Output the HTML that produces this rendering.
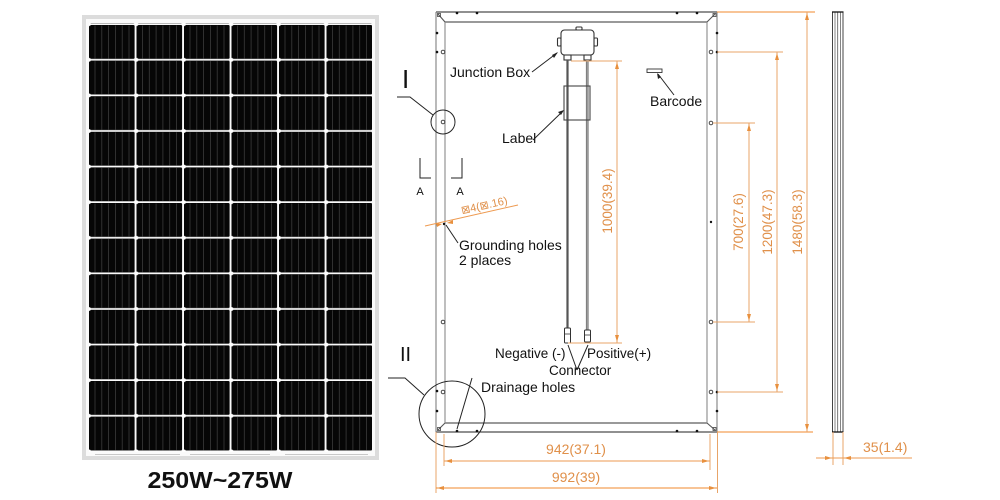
<!DOCTYPE html>
<html><head><meta charset="utf-8"><style>
html,body{margin:0;padding:0;background:#fff;}
svg{display:block;}
text{font-family:"Liberation Sans",Arial,sans-serif;}
</style></head><body>
<svg width="1000" height="500" viewBox="0 0 1000 500" xmlns="http://www.w3.org/2000/svg">
<defs>
<pattern id="cell" x="89" y="25" width="47.5" height="35.6" patternUnits="userSpaceOnUse">
<rect x="0" y="0" width="45.6" height="33.9" rx="1.2" fill="#060606"/>
<g stroke="#3a3a3a" stroke-width="0.8">
<line x1="6" y1="0.5" x2="6" y2="33.5"/><line x1="12.8" y1="0.5" x2="12.8" y2="33.5"/><line x1="19.6" y1="0.5" x2="19.6" y2="33.5"/><line x1="26.4" y1="0.5" x2="26.4" y2="33.5"/><line x1="33.2" y1="0.5" x2="33.2" y2="33.5"/><line x1="40" y1="0.5" x2="40" y2="33.5"/>
</g>
</pattern>
<pattern id="dots" x="112.8" y="42" width="47.5" height="35.6" patternUnits="userSpaceOnUse">
<circle cx="23.75" cy="17.8" r="1.8" fill="#fff"/>
</pattern>
<clipPath id="cc"><rect x="89" y="23" width="283" height="429"/></clipPath>
</defs>
<rect width="1000" height="500" fill="#fff"/>

<!-- Solar panel front -->
<rect x="82" y="15" width="297" height="445" fill="#dcdcdc"/>
<rect x="86" y="19" width="289" height="437" fill="#fafafa"/>
<rect x="89" y="23" width="283" height="429" fill="url(#cell)"/>
<g clip-path="url(#cc)"><rect x="89" y="23" width="283" height="429" fill="url(#dots)"/></g>
<g stroke="#c8c8c8" stroke-width="1"><line x1="95" y1="454.5" x2="180" y2="454.5"/><line x1="190" y1="454.5" x2="270" y2="454.5"/><line x1="285" y1="454.5" x2="368" y2="454.5"/></g>
<text x="220" y="488" font-size="23" font-weight="bold" text-anchor="middle" textLength="145" lengthAdjust="spacingAndGlyphs" fill="#111">250W~275W</text>

<!-- Back view frame -->
<g fill="none" stroke-width="1.1">
<line x1="436" y1="12" x2="717" y2="12" stroke="#222"/>
<line x1="436" y1="432" x2="717" y2="432" stroke="#222"/>
<line x1="436" y1="12" x2="436" y2="432" stroke="#808080"/>
<line x1="717" y1="12" x2="717" y2="432" stroke="#808080"/>
<line x1="445" y1="22" x2="707" y2="22" stroke="#333"/>
<line x1="445" y1="423" x2="707" y2="423" stroke="#333"/>
<line x1="445" y1="22" x2="445" y2="423" stroke="#8a8a8a"/>
<line x1="707" y1="22" x2="707" y2="423" stroke="#8a8a8a"/>
<line x1="438" y1="14" x2="445" y2="22" stroke="#555"/>
<line x1="715" y1="14" x2="707" y2="22" stroke="#555"/>
<line x1="438" y1="430" x2="445" y2="423" stroke="#555"/>
<line x1="715" y1="430" x2="707" y2="423" stroke="#555"/>
<rect x="437.5" y="13.5" width="3" height="3" stroke="#444" stroke-width="0.8"/>
<rect x="713" y="13.5" width="3" height="3" stroke="#444" stroke-width="0.8"/>
<rect x="437.5" y="427.5" width="3" height="3" stroke="#444" stroke-width="0.8"/>
<rect x="713" y="427.5" width="3" height="3" stroke="#444" stroke-width="0.8"/>
</g>
<g fill="#111">
<circle cx="457" cy="13" r="1.3"/><circle cx="477" cy="13" r="1.3"/><circle cx="677" cy="13" r="1.3"/><circle cx="697" cy="13" r="1.3"/>
<circle cx="457" cy="431" r="1.3"/><circle cx="477" cy="431" r="1.3"/><circle cx="677" cy="431" r="1.3"/><circle cx="697" cy="431" r="1.3"/>
<circle cx="437" cy="33" r="1.3"/><circle cx="437" cy="52" r="1.3"/><circle cx="437" cy="391" r="1.3"/><circle cx="437" cy="411" r="1.3"/>
<circle cx="717" cy="33" r="1.3"/><circle cx="717" cy="52" r="1.3"/><circle cx="717" cy="392" r="1.3"/><circle cx="717" cy="411" r="1.3"/>
<circle cx="711" cy="222" r="1.2"/><circle cx="444" cy="224" r="1.2"/>
</g>
<g fill="none" stroke="#333" stroke-width="0.9">
<circle cx="443" cy="52" r="1.8"/><circle cx="443" cy="122" r="1.8"/><circle cx="443" cy="322" r="1.8"/><circle cx="443" cy="392" r="1.8"/>
<circle cx="711" cy="52" r="1.8"/><circle cx="711" cy="123" r="1.8"/><circle cx="711" cy="322" r="1.8"/><circle cx="711" cy="392" r="1.8"/>
</g>

<!-- Junction box & cables -->
<g stroke="#333" fill="#fff" stroke-width="1.1">
<rect x="576" y="27" width="6" height="3" rx="1"/>
<rect x="557.5" y="38" width="3.5" height="8" rx="1"/>
<rect x="594" y="38" width="3.5" height="8" rx="1"/>
<rect x="561" y="30" width="33" height="25" rx="3.5"/>
<rect x="564" y="55" width="7" height="5"/>
<rect x="584" y="55" width="7" height="5"/>
</g>
<line x1="567.5" y1="60" x2="567.5" y2="328" stroke="#555" stroke-width="2.2"/>
<line x1="587.5" y1="60" x2="587.5" y2="330" stroke="#9a9a9a" stroke-width="2.6"/>
<line x1="586.2" y1="60" x2="586.2" y2="330" stroke="#666" stroke-width="0.6"/>
<rect x="564" y="86" width="26" height="34" fill="none" stroke="#444" stroke-width="1.1"/>
<g stroke="#333" fill="#fff" stroke-width="1">
<rect x="564.5" y="328" width="6" height="15" rx="1"/>
<rect x="584.5" y="330" width="6" height="12" rx="1"/>
</g>
<g stroke="#333" stroke-width="0.8"><line x1="564.5" y1="334" x2="570.5" y2="334"/><line x1="584.5" y1="335" x2="590.5" y2="335"/></g>

<!-- leaders -->
<g stroke="#222" stroke-width="1" fill="none">
<line x1="532" y1="72" x2="557" y2="53"/>
<line x1="533" y1="140" x2="563" y2="111"/>
<line x1="674" y1="95" x2="658" y2="74"/>
<line x1="458" y1="243" x2="446" y2="225"/>
<line x1="472" y1="378" x2="457" y2="429"/>
<line x1="577" y1="370" x2="568" y2="345"/>
<line x1="577" y1="370" x2="588" y2="345"/>
<polyline points="397,97 410,97 433,115"/>
<polyline points="388,378 405,378 424,395"/>
<circle cx="443" cy="122" r="12"/>
<circle cx="452" cy="414" r="33"/>
<polyline points="420,158 420,178 431,178"/>
<polyline points="462,158 462,178 451,178"/>
</g>
<g fill="#222">
<polygon points="558,52 552,55 554,58"/>
<polygon points="564,110 558,112 561,115"/>
<polygon points="657,73 658,79 661,77"/>
</g>
<rect x="647" y="69" width="15" height="3.5" fill="#fff" stroke="#333" stroke-width="0.9"/>

<!-- Labels -->
<g font-size="14" fill="#111">
<text x="450" y="77">Junction Box</text>
<text x="502" y="143">Label</text>
<text x="650" y="106">Barcode</text>
<text x="459" y="250">Grounding holes</text>
<text x="459" y="265">2 places</text>
<text x="481" y="392">Drainage holes</text>
<text x="495" y="358" font-size="13.5">Negative (-)</text>
<text x="587" y="358" font-size="13.5">Positive(+)</text>
<text x="549" y="375" font-size="13.5">Connector</text>
<text x="420" y="195" font-size="11" text-anchor="middle">A</text>
<text x="460" y="195" font-size="11" text-anchor="middle">A</text>
<text x="402" y="88" font-size="26">I</text>
<text x="400" y="361" font-size="20">II</text>
</g>

<!-- Side profile -->
<g fill="none">
<rect x="832.5" y="12" width="10.5" height="420" stroke="#444" stroke-width="1"/>
<line x1="835" y1="12" x2="835" y2="432" stroke="#666" stroke-width="0.8"/>
<line x1="837.7" y1="12" x2="837.7" y2="432" stroke="#555" stroke-width="0.8"/>
<line x1="840.4" y1="12" x2="840.4" y2="432" stroke="#666" stroke-width="0.8"/>
<line x1="832" y1="12" x2="843.5" y2="12" stroke="#111" stroke-width="1.3"/>
<line x1="832" y1="432" x2="843.5" y2="432" stroke="#111" stroke-width="1.3"/>
</g>

<!-- Orange dimensions -->
<g stroke="#e8a468" stroke-width="1" fill="none">
<line x1="717" y1="12" x2="815" y2="12" stroke="#f08a2c"/>
<line x1="717" y1="432" x2="813" y2="432" stroke="#f08a2c"/>
<line x1="807" y1="12" x2="807" y2="432"/>
<line x1="717" y1="52" x2="783" y2="52"/>
<line x1="717" y1="392" x2="783" y2="392"/>
<line x1="777" y1="52" x2="777" y2="392"/>
<line x1="713" y1="123" x2="755" y2="123"/>
<line x1="713" y1="322" x2="755" y2="322"/>
<line x1="749" y1="123" x2="749" y2="322"/>
<line x1="571" y1="61" x2="622" y2="61"/>
<line x1="568" y1="343" x2="622" y2="343"/>
<line x1="617" y1="61" x2="617" y2="343"/>
<line x1="444" y1="434" x2="444" y2="466"/>
<line x1="710" y1="434" x2="710" y2="470"/>
<line x1="436" y1="432" x2="436" y2="493"/>
<line x1="717.5" y1="432" x2="717.5" y2="493"/>
<line x1="444" y1="461" x2="710" y2="461" stroke="#ee9a50"/>
<line x1="436" y1="488" x2="717" y2="488" stroke="#f08a2c"/>
<line x1="833" y1="432" x2="833" y2="465"/>
<line x1="843" y1="432" x2="843" y2="465"/>
<line x1="816" y1="458" x2="912" y2="458" stroke="#ee9a50"/>
<line x1="425" y1="226" x2="518" y2="205" stroke="#ee9a50"/>
</g>
<g fill="#e8903e">
<polygon points="807,13 805,20 809,20"/><polygon points="807,431 805,424 809,424"/>
<polygon points="777,53 775,60 779,60"/><polygon points="777,391 775,384 779,384"/>
<polygon points="749,124 747,131 751,131"/><polygon points="749,321 747,314 751,314"/>
<polygon points="617,62 615,69 619,69"/><polygon points="617,342 615,335 619,335"/>
<polygon points="445,461 452,459 452,463"/><polygon points="709,461 702,459 702,463"/>
<polygon points="437,488 444,486 444,490"/><polygon points="716,488 709,486 709,490"/>
<polygon points="832,458 825,456 825,460"/><polygon points="844,458 851,456 851,460"/>
<polygon points="442,224 436,223 437,227"/><polygon points="447,223 453,220 453,224"/>
</g>
<g font-size="14" fill="#e0904a">
<text x="576" y="454" text-anchor="middle">942(37.1)</text>
<text x="576" y="482" text-anchor="middle">992(39)</text>
<text x="863" y="452">35(1.4)</text>
<text transform="translate(612,201) rotate(-90)" text-anchor="middle" font-size="13.5">1000(39.4)</text>
<text transform="translate(743,222) rotate(-90)" text-anchor="middle" font-size="13.5">700(27.6)</text>
<text transform="translate(772,222) rotate(-90)" text-anchor="middle" font-size="13.5">1200(47.3)</text>
<text transform="translate(802,222) rotate(-90)" text-anchor="middle" font-size="13.5">1480(58.3)</text>
<text transform="translate(485,209) rotate(-12.7)" text-anchor="middle" font-size="11" font-family="'DejaVu Sans',sans-serif">⊠4(⊠.16)</text>
</g>
</svg>
</body></html>
